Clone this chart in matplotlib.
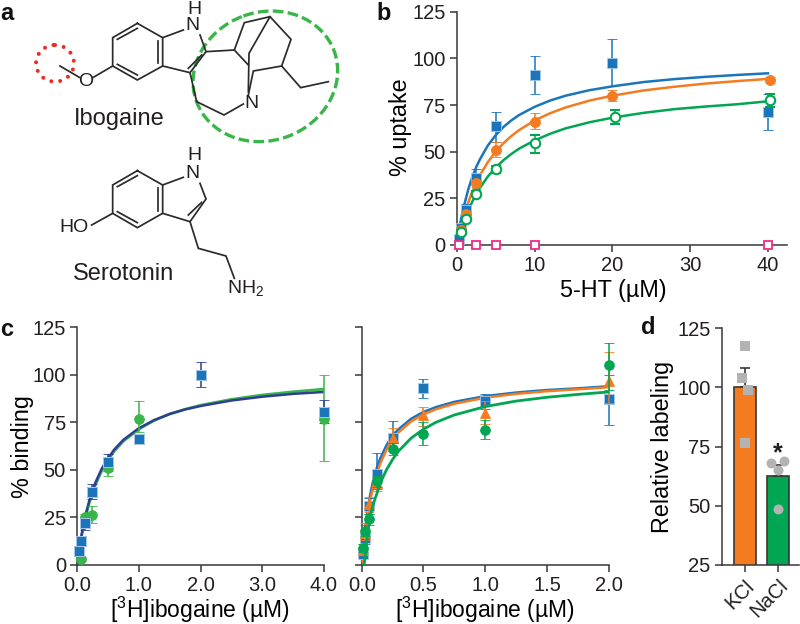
import matplotlib
matplotlib.use("Agg")
import matplotlib.pyplot as plt
from matplotlib.patches import Ellipse

plt.rcParams['font.family'] = ['Liberation Sans', 'DejaVu Sans']
plt.rcParams['mathtext.default'] = 'regular'
plt.rcParams['text.color'] = '#231f20'

BLUE = '#1b75bb'
ORANGE = '#f47b20'
GREEN = '#00a651'
LGREEN = '#39b54a'
NAVY = '#2e3f92'
PINK = '#ec2b8c'
AXC = '#383838'
TXT = '#231f20'

# --- panel b: points
b_blue_x = [0.25, 0.5, 1.25, 2.5, 5, 10, 20, 40]
b_blue_y = [3, 9, 19, 36, 63.5, 91, 97.5, 71]
b_blue_lo = [1, 7, 16, 32, 55, 81, 85, 61.5]
b_blue_hi = [5, 11, 22, 40.5, 71.5, 101.5, 110.5, 81]
b_orange_x = [0.6, 1.25, 2.5, 5, 10, 20, 40.3]
b_orange_y = [8, 16.5, 33, 51, 66, 80, 88.5]
b_orange_lo = [7, 15, 31, 47, 62, 77, 87]
b_orange_hi = [9, 18, 35, 55, 70.5, 83, 90]
b_green_x = [0.6, 1.25, 2.5, 5.1, 10.1, 20.3, 40.3]
b_green_y = [7, 14, 27.5, 40.5, 54.5, 68.5, 77.5]
b_green_lo = [6, 13, 26, 38.5, 49.5, 65, 74]
b_green_hi = [8, 15, 29, 42.5, 59, 72.5, 81]
b_pink_x = [0.25, 2.5, 5, 10, 40]
b_pink_y = [0, 0, 0, 0, 0]

# panel b: curves
b_curve_x = [0, 0.25, 0.5, 0.75, 1, 1.5, 2, 2.5, 3, 4, 5, 6, 7, 8, 10, 12, 14, 17, 20, 24, 28, 32, 36, 40]
b_curve_blue = [0, 6.7, 12.5, 17.6, 22, 30, 36.4, 41.7, 46, 53.3, 58.8, 63.2, 66.7, 69.6, 74, 77.4, 80, 82.9, 85, 87.3, 88.9, 90.1, 91.1, 92]
b_curve_orange = [0, 4.8, 9.1, 13, 16.7, 23, 28.6, 33.3, 37.5, 44.4, 50, 54.5, 58.3, 61.5, 66.7, 70.6, 73.7, 77.3, 80, 82.8, 84.8, 86.5, 87.8, 89]
b_curve_green = [0, 3.8, 7.3, 10.4, 13.4, 18.7, 23.2, 27.2, 30.7, 36.7, 41.4, 45.4, 48.7, 51.6, 56, 59.6, 62.5, 65.7, 68.2, 70.8, 72.8, 74.2, 75.4, 77]

# --- panel c, left
cl_blue_x = [0.03, 0.065, 0.13, 0.25, 0.5, 1, 2, 4]
cl_blue_y = [7.5, 12.5, 22, 38.5, 54, 66, 100, 80.5]
cl_blue_lo = [6, 11, 18.5, 34.5, 49.5, 64, 93.5, 74.5]
cl_blue_hi = [9, 14, 25.5, 42.5, 58.5, 68, 106.5, 87]
cl_green_x = [0.065, 0.13, 0.25, 0.5, 1, 4]
cl_green_y = [3, 25, 26.5, 51, 77, 77]
cl_green_lo = [2, 23, 22, 47, 70, 54.5]
cl_green_hi = [4, 27, 31, 55, 86.5, 100]

cl_curve_x = [0, 0.03, 0.06, 0.1, 0.15, 0.2, 0.25, 0.3, 0.4, 0.5, 0.6, 0.75, 1, 1.25, 1.5, 1.75, 2, 2.5, 3, 3.5, 4]
cl_curve_navy = [0, 7.1, 13.3, 20.4, 27.8, 33.9, 39, 43.5, 50.6, 56, 60.6, 65.8, 71.9, 76.2, 79.4, 81.8, 83.6, 86.5, 88.5, 90, 91]
cl_curve_green = [0, 6.7, 12.8, 19.6, 26.8, 32.8, 37.8, 42.3, 49.5, 55, 59.7, 65.1, 71.4, 76, 79.4, 81.9, 84, 87.1, 89.4, 91.1, 92.5]

# --- panel c, right
cr_blue_x = [0.01, 0.03, 0.06, 0.125, 0.25, 0.5, 1, 2]
cr_blue_y = [6, 14, 31, 48, 67, 93, 86, 87.5]
cr_blue_lo = [4, 11, 27, 40, 60, 88, 82, 73.5]
cr_blue_hi = [8, 17, 35, 59, 75.5, 98, 90, 100]
cr_orange_x = [0.01, 0.03, 0.06, 0.125, 0.25, 0.5, 1, 2]
cr_orange_y = [8, 17, 32, 43, 67, 79, 80, 97]
cr_orange_lo = [5, 13, 28, 39, 60, 73, 74, 85]
cr_orange_hi = [11, 22, 36, 47, 72, 83, 86, 112]
cr_green_x = [0.01, 0.03, 0.06, 0.125, 0.25, 0.5, 1, 2]
cr_green_y = [9, 18, 24, 44, 61, 69, 71, 105]
cr_green_lo = [7, 15, 21, 41, 58, 63, 66, 92]
cr_green_hi = [11, 21, 27, 47, 64, 75, 76, 116.5]

cr_curve_x = [0, 0.02, 0.04, 0.06, 0.08, 0.1, 0.125, 0.15, 0.2, 0.25, 0.3, 0.4, 0.5, 0.6, 0.75, 1, 1.25, 1.5, 1.75, 2]
cr_curve_blue = [0, 14.6, 25.5, 34, 40.6, 46, 51.6, 56, 62.9, 68.3, 71.5, 76.9, 80.5, 83, 85.8, 88.8, 90.7, 92, 92.9, 94]
cr_curve_orange = [0, 13, 23, 31, 37.5, 43, 48.6, 53.3, 60.5, 65.8, 69.8, 75.5, 79.2, 81.9, 84.8, 88, 90, 91.4, 92.4, 93.5]
cr_curve_green = [0, 0, 12, 22, 28.5, 33.3, 38, 43, 50, 55.5, 60, 66.7, 71.4, 75, 78.9, 83.3, 86.2, 88.2, 89.7, 91]

# --- panel d
d_labels = ['KCl', 'NaCl']
d_means = [100, 62.5]
d_err_hi = [108, 67]
d_kcl_points = [117.5, 104, 99, 76.5]
d_kcl_jitter = [0, -0.1, 0.08, 0]
d_nacl_points = [68, 69, 65, 48.5]
d_nacl_jitter = [-0.2, 0.18, -0.01, -0.01]


def zx(v):
    return v / 3


# bond lists, pixel positions from the 3x crop of the drawing
iboga_bonds = [
    [(412, 70), (488, 113), (488, 198), (412, 240), (338, 198), (338, 113), (412, 70)],
    [(352, 118), (412, 85)], [(475, 122), (475, 190)], [(352, 193), (412, 225)],
    [(488, 113), (550, 90)], [(600, 105), (618, 155), (570, 218), (488, 198)],
    [(605, 165), (565, 205)], [(338, 198), (280, 232)], [(180, 198), (238, 232)],
    [(618, 155), (703, 150), (733, 68), (810, 50), (873, 118), (845, 198), (760, 213), (745, 285)],
    [(810, 50), (747, 160), (745, 275)], [(703, 150), (745, 195)],
    [(845, 198), (902, 263), (985, 245)],
    [(570, 218), (590, 305), (672, 345), (730, 312)],
]
sero_bonds = [
    [(412, 512), (488, 555), (488, 640), (412, 683), (338, 640), (338, 555), (412, 512)],
    [(352, 560), (412, 527)], [(475, 564), (475, 632)], [(352, 635), (412, 668)],
    [(488, 555), (550, 532)], [(600, 550), (618, 597), (570, 665), (488, 640)],
    [(605, 607), (565, 645)], [(338, 640), (275, 675)],
    [(570, 665), (595, 745), (678, 768), (703, 835)],
]

fig = plt.figure(figsize=(8, 6.24), dpi=100)
W, H = 800, 624

# overlay in pixel coordinates for the structures and panel letters
px = fig.add_axes([0, 0, 1, 1], zorder=0)
px.set_xlim(0, W)
px.set_ylim(H, 0)
px.axis('off')

for bond in iboga_bonds + sero_bonds:
    px.plot([zx(p[0]) for p in bond], [zx(p[1]) for p in bond], color='#2b2b2b', lw=1.25,
            solid_joinstyle='miter')

px.add_patch(Ellipse((zx(796), zx(229)), zx(440), zx(385), angle=-20, fill=False, ec=LGREEN,
                     lw=2.4, ls=(0, (3.2, 1.3))))
px.add_patch(Ellipse((zx(165), zx(190)), zx(114), zx(110), fill=False, ec='#ee2a24',
                     lw=2.9, ls=(0, (0.01, 2.2)), capstyle='round'))

mol_labels = [('H', 582, 27), ('N', 578, 78), ('O', 257, 245), ('N', 755, 312),
              ('H', 582, 465), ('N', 578, 520), ('HO', 222, 683), ('NH$_2$', 738, 865)]
for s, x, y in mol_labels:
    px.text(zx(x), zx(y), s, fontsize=14, ha='center', va='center')
px.text(zx(357), zx(357), 'Ibogaine', fontsize=17, ha='center', va='center')
px.text(zx(370), zx(822), 'Serotonin', fontsize=17, ha='center', va='center')

for s, x, y in [('a', 7, 13), ('b', 384, 13), ('c', 7, 329), ('d', 648, 328)]:
    px.text(x, y, s, fontsize=17, fontweight='bold', ha='center', va='center', color='#111111')


def make_axes(left, right, top, bottom):
    ax = fig.add_axes([left / W, 1 - bottom / H, (right - left) / W, (bottom - top) / H], zorder=2)
    ax.patch.set_alpha(0)
    for side in ['top', 'right']:
        ax.spines[side].set_visible(False)
    for side in ['left', 'bottom']:
        ax.spines[side].set_color(AXC)
        ax.spines[side].set_linewidth(1.1)
    ax.tick_params(length=5, width=1.1, color=AXC, labelsize=14.5, labelcolor=TXT, pad=3)
    return ax


def points(ax, x, y, lo, hi, color, marker, ms, mfc=None, mec=None, z=5, cap=3.6):
    yerr = [[a - b for a, b in zip(y, lo)], [b - a for a, b in zip(y, hi)]]
    ax.errorbar(x, y, yerr=yerr, fmt=marker, color=color, ms=ms, mfc=mfc or color,
                mec=mec or color, mew=1.5 if mfc else 0.6, elinewidth=1.1, capsize=cap,
                capthick=1.1, clip_on=False, zorder=z)


def xlabel_at(ax, s, x, y, size=16.8):
    ax.set_xlabel(s, fontsize=size, va='center', ha='center')
    ax.xaxis.set_label_coords(x, y, transform=px.transData)


def ylabel_at(ax, s, x, y):
    ax.set_ylabel(s, fontsize=16.8, va='center', ha='center')
    ax.yaxis.set_label_coords(x, y, transform=px.transData)


y_ticks = [0, 25, 50, 75, 100, 125]

# panel b
axb = make_axes(456.7, 786.7, 11.7, 245)
axb.set_xlim(0, 42.4)
axb.set_ylim(0, 125)
axb.set_xticks([0, 10, 20, 30, 40])
axb.set_yticks(y_ticks)
axb.plot(b_curve_x, b_curve_blue, color=BLUE, lw=1.8, zorder=3)
axb.plot(b_curve_x, b_curve_orange, color=ORANGE, lw=1.8, zorder=3)
axb.plot(b_curve_x, b_curve_green, color=GREEN, lw=1.8, zorder=3)
points(axb, b_blue_x, b_blue_y, b_blue_lo, b_blue_hi, BLUE, 's', 6.8, mec='#a9c9e8', z=4)
points(axb, b_orange_x, b_orange_y, b_orange_lo, b_orange_hi, ORANGE, 'o', 7.2, z=5)
points(axb, b_green_x, b_green_y, b_green_lo, b_green_hi, GREEN, 'o', 6.8, mfc='white', z=6)
axb.plot(b_pink_x, b_pink_y, 's', ms=6.2, mfc='white', mec=PINK, mew=1.3, clip_on=False, zorder=7)
xlabel_at(axb, '5-HT (µM)', 613, 290)
ylabel_at(axb, '% uptake', 401, 127)

# panel c, left
axc1 = make_axes(77, 324, 327.3, 565)
axc1.set_xlim(0, 4)
axc1.set_ylim(0, 125)
axc1.set_xticks([0, 1, 2, 3, 4])
axc1.set_xticklabels(['0.0', '1.0', '2.0', '3.0', '4.0'])
axc1.set_yticks(y_ticks)
axc1.plot(cl_curve_x, cl_curve_green, color=LGREEN, lw=2, zorder=3)
axc1.plot(cl_curve_x, cl_curve_navy, color=NAVY, lw=1.8, zorder=3)
points(axc1, cl_green_x, cl_green_y, cl_green_lo, cl_green_hi, LGREEN, 'o', 7, z=4)
points(axc1, cl_blue_x, cl_blue_y, cl_blue_lo, cl_blue_hi, NAVY, 's', 7, z=4)
axc1.plot(cl_blue_x, cl_blue_y, 's', ms=7.2, color=BLUE, mec='#a9c9e8', mew=0.7, clip_on=False, zorder=5)
xlabel_at(axc1, '[$^{3}$H]ibogaine (µM)', 200, 610, size=16.5)
ylabel_at(axc1, '% binding', 22, 447)

# panel c, right
axc2 = make_axes(361.7, 608.7, 327.3, 565)
axc2.set_xlim(0, 2)
axc2.set_ylim(0, 125)
axc2.set_xticks([0, 0.5, 1, 1.5, 2])
axc2.set_xticklabels(['0.0', '0.5', '1.0', '1.5', '2.0'])
axc2.set_yticks(y_ticks)
axc2.set_yticklabels([])
axc2.plot(cr_curve_x, cr_curve_blue, color=BLUE, lw=1.8, zorder=3)
axc2.plot(cr_curve_x, cr_curve_orange, color=ORANGE, lw=1.8, zorder=3)
axc2.plot(cr_curve_x, cr_curve_green, color=GREEN, lw=2, zorder=6.5)
points(axc2, cr_blue_x, cr_blue_y, cr_blue_lo, cr_blue_hi, BLUE, 's', 7, mec='#a9c9e8', z=4)
points(axc2, cr_orange_x, cr_orange_y, cr_orange_lo, cr_orange_hi, ORANGE, '^', 7.8, z=5)
points(axc2, cr_green_x, cr_green_y, cr_green_lo, cr_green_hi, GREEN, 'o', 7, z=6)
xlabel_at(axc2, '[$^{3}$H]ibogaine (µM)', 485, 610, size=16.5)

# panel d
axd = make_axes(721.7, 799, 328, 565)
axd.set_xlim(-0.706, 1.636)
axd.set_ylim(25, 125)
axd.set_yticks([25, 50, 75, 100, 125])
axd.set_xticks([0, 1])
axd.set_xticklabels(d_labels, rotation=45, ha='right', rotation_mode='anchor')
axd.bar([0, 1], d_means, width=0.667, color=[ORANGE, GREEN], edgecolor=AXC, linewidth=1.2, zorder=2)
axd.errorbar([0, 1], d_means, yerr=[[0, 0], [a - b for a, b in zip(d_err_hi, d_means)]], fmt='none',
             ecolor=AXC, elinewidth=1.2, capsize=3.6, capthick=1.2, zorder=3)
axd.plot([0 + j for j in d_kcl_jitter], d_kcl_points, 's', ms=6.5, color='#b3b3b3', mew=0, clip_on=False, zorder=4)
axd.plot([1 + j for j in d_nacl_jitter], d_nacl_points, 'o', ms=7.2, color='#b3b3b3', mew=0, clip_on=False, zorder=4)
axd.text(1, 72.3, '*', fontsize=18, fontweight='bold', ha='center', va='center')
ylabel_at(axd, 'Relative labeling', 663, 447)

fig.savefig('out.png', dpi=100)
